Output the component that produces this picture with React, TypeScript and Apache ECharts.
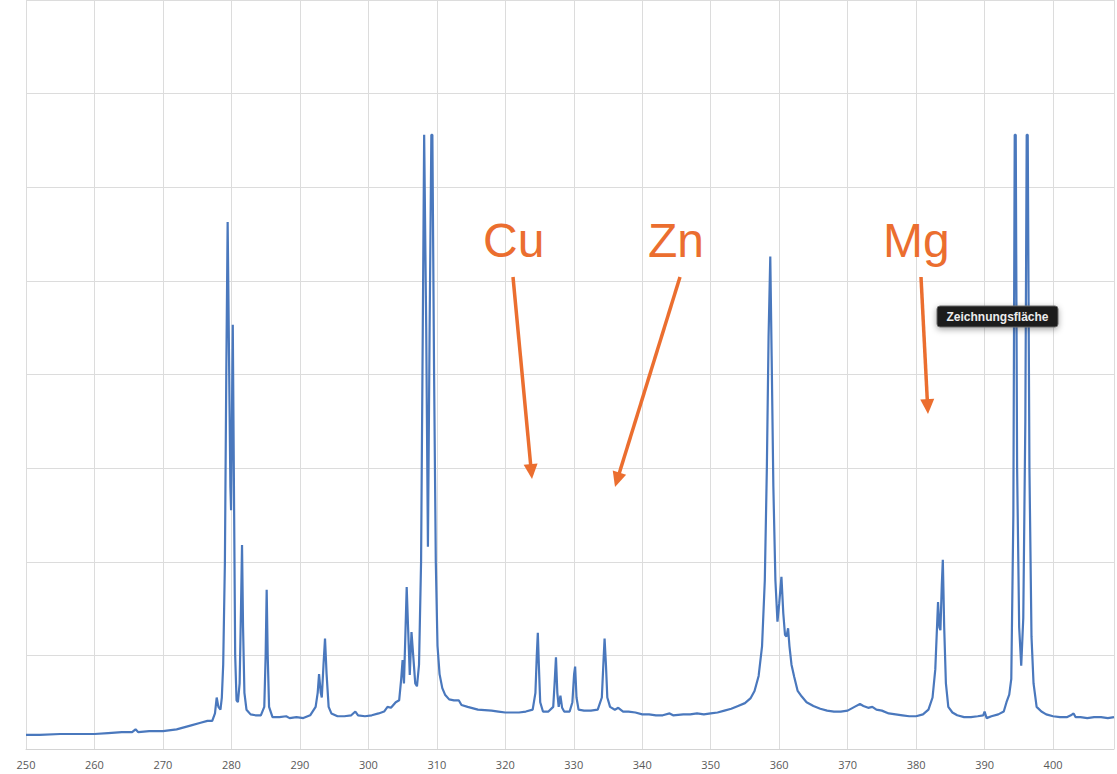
import React, { useEffect, useRef } from "react";
import * as echarts from "echarts";

// Wavelength (nm) and intensity (arbitrary units, thousands of counts)
const WAVELENGTH = [
  250, 252, 255, 258, 260, 262, 264, 265.5, 266, 266.4, 268, 270, 272, 274, 275.5, 276.5, 277.2, 277.6, 277.85, 278.1,
  278.4, 278.6, 278.8, 279.05, 279.25, 279.45, 279.65, 279.85, 279.95, 280.2, 280.4, 280.55, 280.75, 280.95, 281.2, 281.4,
  281.55, 281.7, 281.9, 282.2, 282.8, 283.5, 284.3, 284.8, 285.0, 285.15, 285.3, 285.5, 286, 287, 288, 288.5, 289.5, 290.5,
  291.5, 292.3, 292.6, 292.8, 293.05, 293.2, 293.45, 293.67, 293.9, 294.2, 294.6, 295.5, 296.5, 297.5, 298.1, 298.5, 299.5,
  300.5, 301.5, 302.3, 302.8, 303.3, 304, 304.5, 304.8, 305.0, 305.2, 305.4, 305.6, 305.8, 306.05, 306.3, 306.55, 306.85,
  307.1, 307.4, 307.7, 307.95, 308.15, 308.25, 308.45, 308.7, 308.95, 309.2, 309.35, 309.6, 309.85, 310.1, 310.4, 310.8,
  311.2, 311.8, 312.5, 313.2, 313.6, 314.5, 316, 318, 319, 320, 321, 322, 323, 324, 324.4, 324.6, 324.75, 324.9, 325.1,
  325.5, 326.3, 327.0, 327.2, 327.4, 327.6, 327.8, 328.05, 328.3, 328.6, 329.4, 329.8, 330.05, 330.2, 330.4, 330.7, 331.5,
  332.5, 333.5, 334.1, 334.35, 334.5, 334.7, 334.9, 335.3, 336, 336.5, 337.2, 338, 339, 340, 341, 342, 343, 344, 344.5,
  346, 347, 348, 349, 350, 351, 352, 353, 354, 355, 355.8, 356.4, 357.0, 357.5, 357.9, 358.2, 358.45, 358.7, 358.9, 359.15,
  359.45, 359.75, 360.0, 360.33, 360.6, 360.85, 361.06, 361.3, 361.5, 361.8, 362.2, 362.7, 363.3, 364, 365, 366, 367, 368,
  369, 370, 371, 371.8, 372.3, 373, 373.6, 374.2, 375, 376, 377, 378, 379, 380, 381, 381.8, 382.4, 382.8, 383.05, 383.2,
  383.4, 383.55, 383.75, 383.9, 384.1, 384.35, 384.7, 385.3, 386, 387, 388, 389, 389.8, 390, 390.3, 391, 392, 392.8, 393.2,
  393.6, 393.9, 394.2, 394.4, 394.55, 394.75, 395.05, 395.35, 395.65, 395.95, 396.15, 396.3, 396.55, 396.85, 397.15, 397.6, 398.3,
  399, 400, 401, 402, 402.6, 403, 403.3, 404, 405, 406, 407, 408, 408.9,
];

const INTENSITY = [
  1.5, 1.5, 1.6, 1.6, 1.6, 1.7, 1.8, 1.8, 2.1, 1.8, 1.9, 1.9, 2.1, 2.5, 2.8, 3.0, 3.0, 3.8, 5.5, 4.5,
  4.2, 5.5, 9.0, 20.0, 40.0, 56.3, 42.0, 28.0, 25.5, 45.3, 25.0, 10.0, 5.2, 5.0, 7.0, 15.0,
  21.8, 13.0, 6.0, 4.2, 3.7, 3.6, 3.6, 4.5, 10.0, 17.0, 10.0, 4.5, 3.4, 3.4, 3.5, 3.3, 3.4, 3.3,
  3.6, 4.5, 6.0, 8.0, 6.0, 5.5, 9.0, 11.8, 8.0, 4.5, 3.8, 3.5, 3.5, 3.6, 4.0, 3.6, 3.5,
  3.6, 3.8, 4.0, 4.5, 4.4, 5.0, 5.2, 7.5, 9.5, 7.0, 12.0, 17.3, 13.0, 7.9, 12.5, 10.0, 7.0,
  6.7, 9.0, 20.0, 45.0, 65.6, 65.6, 45.0, 21.6, 45.0, 65.6, 65.6, 40.0, 20.0, 11.0, 8.0, 6.5,
  5.8, 5.3, 5.2, 5.2, 4.7, 4.5, 4.2, 4.1, 4.0, 3.9, 3.9, 3.9, 4.0, 4.2, 6.0, 10.0, 12.4, 9.0, 5.0,
  4.0, 4.0, 4.5, 7.0, 9.8, 6.0, 4.5, 5.7, 4.4, 4.0, 4.0, 5.0, 8.0, 8.8, 5.5, 4.2, 4.1,
  4.1, 4.2, 5.5, 9.5, 11.8, 9.0, 5.5, 4.5, 4.2, 4.4, 4.0, 4.0, 3.9, 3.7, 3.7, 3.6, 3.6, 3.8, 3.6,
  3.7, 3.7, 3.8, 3.7, 3.8, 3.9, 4.1, 4.3, 4.6, 4.9, 5.4, 6.2, 7.8, 11.0, 18.0, 30.0, 44.0, 52.6, 42.0, 28.0,
  18.0, 13.6, 15.5, 18.4, 14.5, 12.2, 12.0, 12.9, 11.0, 9.0, 7.7, 6.2, 5.6, 5.0, 4.6, 4.3, 4.1, 4.0,
  4.0, 4.1, 4.5, 4.8, 4.6, 4.4, 4.5, 4.2, 4.1, 3.8, 3.7, 3.6, 3.5, 3.5, 3.7, 4.2, 5.5, 8.5, 13.0, 15.7,
  13.0, 12.7, 17.5, 20.2, 13.0, 7.0, 4.5, 3.9, 3.6, 3.4, 3.4, 3.5, 3.6, 4.0, 3.3, 3.5, 3.7, 4.0, 5.0,
  5.8, 7.5, 25.0, 65.6, 65.6, 30.0, 13.0, 8.9, 14.0, 35.0, 65.6, 65.6, 30.0, 12.0, 7.0, 4.5, 4.0,
  3.7, 3.5, 3.4, 3.4, 3.6, 3.8, 3.4, 3.4, 3.3, 3.4, 3.4, 3.3, 3.4,
];

const X_TICK_LABELS = [250, 260, 270, 280, 290, 300, 310, 320, 330, 340, 350, 360, 370, 380, 390, 400];

const ELEMENT_LABELS = ["Cu", "Zn", "Mg"];

const ORANGE = "#EB6E2F";

function arrow(x1: number, y1: number, x2: number, y2: number) {
  const dx = x2 - x1;
  const dy = y2 - y1;
  const len = Math.sqrt(dx * dx + dy * dy);
  const ux = dx / len;
  const uy = dy / len;
  const headLen = 15;
  const halfW = 7;
  const bx = x2 - ux * headLen;
  const by = y2 - uy * headLen;
  const px = -uy;
  const py = ux;
  return [
    {
      type: "line",
      z: 100,
      shape: { x1, y1, x2: bx + ux * 2, y2: by + uy * 2 },
      style: { stroke: ORANGE, lineWidth: 3.5 },
      silent: true,
    },
    {
      type: "polygon",
      z: 100,
      shape: {
        points: [
          [x2, y2],
          [bx + px * halfW, by + py * halfW],
          [bx - px * halfW, by - py * halfW],
        ],
      },
      style: { fill: ORANGE },
      silent: true,
    },
  ];
}

export default function App() {
  const ref = useRef<HTMLDivElement>(null);

  useEffect(() => {
    if (!ref.current) return;
    const chart = echarts.init(ref.current, null, { renderer: "svg" });
    const data = WAVELENGTH.map((w, i) => [w, INTENSITY[i]]);

    const labelPos = [
      { x: 483, y: 240 },
      { x: 648, y: 240 },
      { x: 883, y: 240 },
    ];
    const arrows = [
      [513, 277, 532, 479],
      [680, 277, 615, 487],
      [921, 277, 928, 414],
    ];

    const graphic: any[] = [];
    ELEMENT_LABELS.forEach((t, i) => {
      graphic.push({
        type: "text",
        z: 100,
        x: labelPos[i].x,
        y: labelPos[i].y,
        silent: true,
        style: {
          text: t,
          font: '48px "Liberation Sans", Arial, sans-serif',
          fill: ORANGE,
          align: "left",
          verticalAlign: "middle",
        },
      });
      const a = arrows[i];
      graphic.push(...arrow(a[0], a[1], a[2], a[3]));
    });
    graphic.push({
      type: "group",
      x: 937,
      y: 306,
      z: 200,
      silent: true,
      children: [
        {
          type: "rect",
          z: 200,
          shape: { x: 0, y: 0, width: 121, height: 21, r: 3 },
          style: {
            fill: "#1c1c1c",
            stroke: "#6a6a6a",
            lineWidth: 1,
            shadowBlur: 6,
            shadowColor: "rgba(0,0,0,0.35)",
            shadowOffsetY: 2,
          },
        },
        {
          type: "text",
          z: 201,
          x: 60.5,
          y: 11,
          style: {
            text: "Zeichnungsfläche",
            font: 'bold 12px "Liberation Sans", Arial, sans-serif',
            fill: "#ececec",
            align: "center",
            verticalAlign: "middle",
          },
        },
      ],
    });

    chart.setOption({
      animation: false,
      backgroundColor: "#ffffff",
      grid: { left: 26, right: 0, top: 0, bottom: 25, containLabel: false },
      xAxis: {
        type: "value",
        min: 250,
        max: 408.9,
        interval: 10,
        axisLine: { show: true, lineStyle: { color: "#d4d4d4", width: 1 } },
        axisTick: { show: false },
        axisLabel: {
          color: "#595959",
          fontSize: 11,
          fontFamily: '"Open Sans", "Noto Sans", sans-serif',
          margin: 10,
          formatter: (v: number) => (X_TICK_LABELS.indexOf(Math.round(v * 10) / 10) >= 0 ? String(v) : ""),
        },
        splitLine: { show: true, lineStyle: { color: "#dcdcdc", width: 1 } },
      },
      yAxis: {
        type: "value",
        min: 0,
        max: 80,
        interval: 10,
        axisLine: { show: false },
        axisTick: { show: false },
        axisLabel: { show: false },
        splitLine: { show: true, lineStyle: { color: "#dcdcdc", width: 1 } },
      },
      series: [
        {
          type: "line",
          data,
          showSymbol: false,
          symbol: "none",
          smooth: false,
          z: 2,
          lineStyle: { color: "#4a78bd", width: 2.2 },
          itemStyle: { color: "#4a78bd" },
        },
      ],
      graphic,
    });

    return () => chart.dispose();
  }, []);

  return <div ref={ref} style={{ width: 1117, height: 774, position: "fixed", left: 0, top: 0, background: "#fff" }} />;
}
